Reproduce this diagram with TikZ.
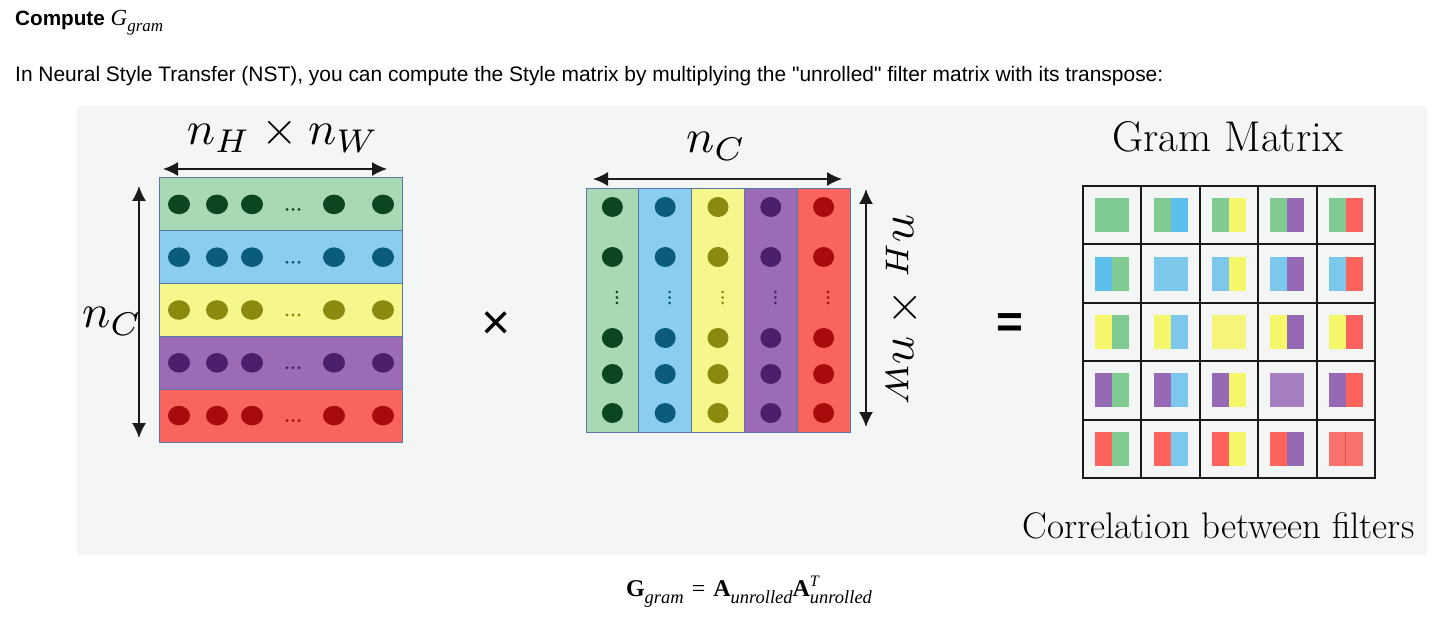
\documentclass[tikz,border=0pt]{standalone}
\usepackage{fontspec}
\usetikzlibrary{arrows.meta}
\newfontfamily\arialfont{Liberation Sans}
\newfontfamily\tnrfont{Liberation Serif}
\definecolor{panel}{HTML}{F4F5F5}
\definecolor{mboutline}{HTML}{5878A8}
\definecolor{arrowcol}{HTML}{1A1A1A}
\definecolor{gridcol}{HTML}{1A1A1A}
\definecolor{rowgreen}{HTML}{A9D9B4}
\definecolor{rowblue}{HTML}{8ACDEF}
\definecolor{rowyellow}{HTML}{F5F68B}
\definecolor{rowpurple}{HTML}{9B6BB6}
\definecolor{rowred}{HTML}{F9645F}
\definecolor{dotgreen}{HTML}{0B4620}
\definecolor{dotblue}{HTML}{0B5C7C}
\definecolor{dotyellow}{HTML}{8A8A0E}
\definecolor{dotpurple}{HTML}{4B1F6B}
\definecolor{dotred}{HTML}{A70B0C}
\definecolor{ggreen}{HTML}{7FCB92}
\definecolor{gblue}{HTML}{7BC8EC}
\definecolor{gblueS}{HTML}{5CBFEB}
\definecolor{gyellow}{HTML}{F6F66A}
\definecolor{gpurple}{HTML}{9569B4}
\definecolor{gred}{HTML}{FD625D}
\definecolor{gdgreen}{HTML}{7FCB92}
\definecolor{gdblue}{HTML}{7CC9EC}
\definecolor{gdyellow}{HTML}{F5F57A}
\definecolor{gdpurple}{HTML}{A57FBF}
\definecolor{gdred}{HTML}{F9726D}
\definecolor{gdline}{HTML}{E5504B}
\tikzset{
  rowbox/.style={draw=mboutline, line width=1pt, inner sep=0pt, outer sep=0pt},
  dimarrow/.style={{Latex[length=15pt,width=14pt]}-{Latex[length=15pt,width=14pt]}, line width=1.5pt, draw=arrowcol},
  biglabel/.style={font=\fontsize{10}{12}\selectfont, inner sep=0pt, scale=4.7},
  cell/.style={draw=gridcol, line width=2pt, minimum width=58.4pt, minimum height=58.4pt, inner sep=0pt, outer sep=0pt},
  serifbig/.style={font=\fontsize{43}{48}\selectfont, inner sep=0pt},
  serifcap/.style={font=\fontsize{37}{42}\selectfont, inner sep=0pt},
  optext/.style={inner sep=0pt, text=black},
}
\begin{document}
\begin{tikzpicture}[x=1pt,y=-1pt]
\useasboundingbox (0,0) rectangle (1448,617);
\fill[white] (0,0) rectangle (1448,617);
\fill[panel] (77,106) rectangle (1427,555);

% header
\node[anchor=base west, inner sep=0pt] (title) at (15,26)
  {\arialfont\bfseries\fontsize{20.7}{24}\selectfont Compute \tnrfont\mdseries\itshape\fontsize{23}{26}\selectfont G\raisebox{-6pt}{\fontsize{17}{20}\selectfont gram}};
\node[anchor=base west, inner sep=0pt] (intro) at (15,82)
  {\arialfont\fontsize{20.95}{24}\selectfont In Neural Style Transfer (NST), you can compute the Style matrix by multiplying the "unrolled" filter matrix with its transpose:};

% left matrix
\foreach \c [count=\i] in {green,blue,yellow,purple,red} {
  \pgfmathsetmacro\yc{178+52.8*(\i-0.5)}
  \node[rowbox, fill=row\c, minimum width=243pt, minimum height=52.8pt] (L\i) at (280.5,\yc) {};
  \foreach \x in {179,217,252,334,383}
    \fill[dot\c] (\x,\yc) ellipse [x radius=11, y radius=9.8];
  \foreach \x in {287,293,299}
    \fill[dot\c] (\x,\yc+5) circle [radius=1.6];
}
\coordinate (lta) at (163,169);
\coordinate (ltb) at (387,169);
\draw[dimarrow] (lta) -- (ltb);
\coordinate (lva) at (139,186);
\coordinate (lvb) at (139,438);
\draw[dimarrow] (lva) -- (lvb);
\node[biglabel, anchor=base] (ltlabel) at (283,145) {$n_H\times n_W$};
\node[biglabel, anchor=base] (lvlabel) at (112,328) {$n_C$};

% times sign
\node[optext, font=\arialfont\fontsize{50}{56}\selectfont] (times) at (496,326) {×};

% right matrix
\foreach \c [count=\i] in {green,blue,yellow,purple,red} {
  \pgfmathsetmacro\xc{586+52.8*(\i-0.5)}
  \node[rowbox, fill=row\c, minimum width=52.8pt, minimum height=243pt] (R\i) at (\xc,310.5) {};
  \foreach \y in {207,257,338,374,413}
    \fill[dot\c] (\xc,\y) ellipse [x radius=10.5, y radius=10];
  \foreach \y in {292,297.5,303}
    \fill[dot\c] (\xc+4.5,\y) circle [radius=1.5];
}
\coordinate (rta) at (593,179);
\coordinate (rtb) at (842,179);
\draw[dimarrow] (rta) -- (rtb);
\coordinate (rva) at (866,189);
\coordinate (rvb) at (866,427);
\draw[dimarrow] (rva) -- (rvb);
\node[biglabel, anchor=base] (rtlabel) at (716,153) {$n_C$};
\node[biglabel, anchor=base, rotate=-90] (rvlabel) at (893,311) {$n_H\times n_W$};

% equals sign
\node[optext, font=\arialfont\bfseries\fontsize{46}{50}\selectfont] (equals) at (1010,326) {=};

% gram matrix
\node[serifbig, anchor=base] (gramtitle) at (1227.5,152) {Gram Matrix};
\foreach \r [count=\i] in {green,blue,yellow,purple,red} {
  \foreach \c [count=\j] in {green,blue,yellow,purple,red} {
    \pgfmathsetmacro\cx{1083+58.4*(\j-0.5)}
    \pgfmathsetmacro\cy{186+58.4*(\i-0.5)}
    \node[cell] (G\i\j) at (\cx,\cy) {};
    \ifnum\i=\j
      \fill[gd\r] (\cx-17,\cy-17) rectangle (\cx+17,\cy+17);
    \else
      \ifnum\numexpr\i*\j\relax=2
        \ifnum\i=1
          \fill[g\r] (\cx-17,\cy-17) rectangle (\cx,\cy+17);
          \fill[gblueS] (\cx,\cy-17) rectangle (\cx+17,\cy+17);
        \else
          \fill[gblueS] (\cx-17,\cy-17) rectangle (\cx,\cy+17);
          \fill[g\c] (\cx,\cy-17) rectangle (\cx+17,\cy+17);
        \fi
      \else
        \fill[g\r] (\cx-17,\cy-17) rectangle (\cx,\cy+17);
        \fill[g\c] (\cx,\cy-17) rectangle (\cx+17,\cy+17);
      \fi
    \fi
  }
}
\draw[gdline, line width=1.2pt] (1345.8,431.6) -- (1345.8,465.6);
\node[serifcap, anchor=base] (gramcap) at (1218.5,538) {Correlation between filters};

% formula
\node[anchor=base, inner sep=0pt] (formula) at (749,596)
  {\tnrfont\fontsize{24}{28}\selectfont\textbf{G}\raisebox{-7pt}{\fontsize{18.5}{22}\selectfont\itshape gram}\hspace{8pt}=\hspace{8pt}\textbf{A}\raisebox{-7pt}{\fontsize{18.5}{22}\selectfont\itshape unrolled}\textbf{A}\rlap{\raisebox{10pt}{\fontsize{16}{20}\selectfont\itshape T}}\raisebox{-7.5pt}{\fontsize{18.5}{22}\selectfont\itshape unrolled}};
\end{tikzpicture}
\end{document}
